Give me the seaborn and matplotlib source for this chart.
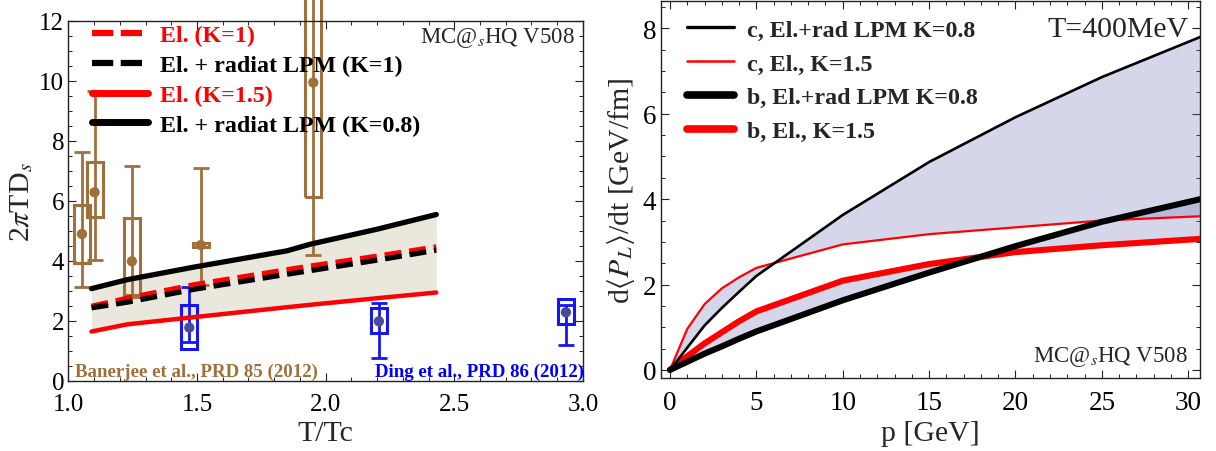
import numpy as np
import pandas as pd
import matplotlib
matplotlib.use("Agg")
import matplotlib.pyplot as plt
import seaborn as sns
from matplotlib.lines import Line2D
from matplotlib.ticker import MultipleLocator, FormatStrFormatter

# ---------------- Left panel data ----------------
T_model = [1.09, 1.23, 1.49, 1.85, 1.94, 2.20, 2.43]
el_K1 = [2.48, 2.75, 3.20, 3.70, 3.82, 4.15, 4.46]
rad_K1 = [2.43, 2.62, 3.05, 3.55, 3.67, 4.02, 4.35]
el_K15 = [1.64, 1.88, 2.12, 2.45, 2.53, 2.75, 2.94]
rad_K08 = [3.07, 3.37, 3.79, 4.33, 4.55, 5.05, 5.54]

ban_T = [1.053, 1.102, 1.247, 1.515, 1.952]
ban_y = [4.89, 6.28, 3.98, 4.52, 9.94]
ban_box_lo = [3.92, 5.46, 2.85, 4.45, 6.14]
ban_box_hi = [5.85, 7.28, 5.42, 4.60, 15.0]
ban_err_lo = [3.13, 4.01, 2.80, 3.20, 4.18]
ban_err_hi = [7.64, 9.67, 7.16, 7.08, 15.0]

ding_T = [1.47, 2.207, 2.934]
ding_y = [1.77, 1.98, 2.28]
ding_box_lo = [1.05, 1.58, 1.89]
ding_box_hi = [2.52, 2.41, 2.71]
ding_err_lo = [1.28, 0.77, 1.19]
ding_err_hi = [3.13, 2.60, 2.51]

left_labels = ["El. (K=1)", "El. + radiat LPM (K=1)", "El. (K=1.5)", "El. + radiat LPM (K=0.8)"]

# ---------------- Right panel data ----------------
p_vals = [0, 1, 2, 3, 4, 5, 10, 15, 20, 25, 30.7]
c_rad = [0, 0.52, 1.04, 1.45, 1.83, 2.20, 3.63, 4.87, 5.92, 6.86, 7.80]
c_el = [0, 0.96, 1.54, 1.91, 2.17, 2.39, 2.94, 3.18, 3.34, 3.50, 3.60]
b_rad = [0, 0.19, 0.38, 0.55, 0.73, 0.90, 1.63, 2.28, 2.90, 3.47, 4.00]
b_el = [0, 0.32, 0.62, 0.88, 1.14, 1.37, 2.09, 2.48, 2.76, 2.92, 3.07]

right_labels = ["c, El.+rad LPM K=0.8", "c, El., K=1.5", "b, El.+rad LPM K=0.8", "b, El., K=1.5"]

# ---------------- Style ----------------
sns.set_style("ticks")
plt.rcParams['font.family'] = ['Liberation Serif', 'DejaVu Serif']
plt.rcParams['mathtext.fontset'] = 'stix'

BROWN = "#a0703c"
BLUE = "#1515f5"
BLUEPT = "#4a4a9c"
RED = "#ff0000"
BEIGE = "#eae7dc"
LAV = (0.47, 0.47, 0.74)

fig = plt.figure(figsize=(12.16, 4.52), dpi=100)
axL = fig.add_axes([0.0562, 0.1555, 0.4232, 0.7965])
axR = fig.add_axes([0.5433, 0.1615, 0.4435, 0.8347])

LAB_FS = 21.5
LEG_FS = 17.3


def style_axes(ax, tick_fs):
    for s in ax.spines.values():
        s.set_linewidth(1.0)
        s.set_color("#222222")
        s.set_visible(True)
    ax.tick_params(which="both", direction="in", top=True, right=True,
                   labelsize=tick_fs, colors="#222222", labelcolor="black")
    ax.tick_params(which="major", length=6, width=0.8)
    ax.tick_params(which="minor", length=3.2, width=0.7)
    ax.tick_params(axis="x", which="major", pad=8.5)
    ax.tick_params(axis="y", which="major", pad=3)


# ---------------- Left panel ----------------
ax = axL
ax.fill_between(T_model, el_K15, rad_K08, color=BEIGE, lw=0, zorder=1)

ban = pd.DataFrame({"T": ban_T, "y": ban_y, "blo": ban_box_lo, "bhi": ban_box_hi,
                    "elo": ban_err_lo, "ehi": ban_err_hi})
ding = pd.DataFrame({"T": ding_T, "y": ding_y, "blo": ding_box_lo, "bhi": ding_box_hi,
                     "elo": ding_err_lo, "ehi": ding_err_hi})

for df, col, ptcol in [(ban, BROWN, BROWN), (ding, BLUE, BLUEPT)]:
    eb = ax.errorbar(df["T"], df["y"], yerr=[df["y"] - df["elo"], df["ehi"] - df["y"]],
                     fmt="none", ecolor=col, elinewidth=2.0, capsize=6, capthick=2.0, zorder=2)
    for art in list(eb.lines[1]) + list(eb.lines[2]):
        art.set_clip_on(False)
    bars = ax.bar(df["T"], df["bhi"] - df["blo"], bottom=df["blo"], width=0.062,
                  fill=False, edgecolor=col, linewidth=2.2, zorder=2)
    for b in bars:
        b.set_clip_on(False)
    sns.scatterplot(x=df["T"], y=df["y"], ax=ax, color=ptcol, s=55, edgecolor="none", zorder=3)

dash = (0, (3.2, 1.5))
sns.lineplot(x=T_model, y=el_K1, ax=ax, color=RED, lw=3.8, linestyle=dash, zorder=4)
sns.lineplot(x=T_model, y=rad_K1, ax=ax, color="black", lw=3.8, linestyle=dash, zorder=4)
sns.lineplot(x=T_model, y=el_K15, ax=ax, color=RED, lw=3.2, zorder=4)
sns.lineplot(x=T_model, y=rad_K08, ax=ax, color="black", lw=3.8, zorder=4)

ax.set_xlim(1.0, 3.0)
ax.set_ylim(0, 12)
ax.xaxis.set_major_locator(MultipleLocator(0.5))
ax.xaxis.set_minor_locator(MultipleLocator(0.1))
ax.yaxis.set_major_locator(MultipleLocator(2))
ax.yaxis.set_minor_locator(MultipleLocator(0.5))
ax.xaxis.set_major_formatter(FormatStrFormatter("%.1f"))
style_axes(ax, 18)
ax.set_xlabel("T/Tc", fontsize=LAB_FS, labelpad=4)
ax.set_ylabel(r"2$\pi$TD$_s$", fontsize=LAB_FS, labelpad=3)

hL = [Line2D([], [], color=RED, lw=4.5, linestyle=(0, (3.4, 1.2))),
      Line2D([], [], color="black", lw=4.5, linestyle=(0, (3.4, 1.2))),
      Line2D([], [], color=RED, lw=5),
      Line2D([], [], color="black", lw=5)]
legL = ax.legend(hL, left_labels, loc="upper left", bbox_to_anchor=(0.0455, 0.989),
                 frameon=False, borderaxespad=0, borderpad=0, handlelength=2.35,
                 handletextpad=0.48, labelspacing=0.33,
                 prop={"family": "Liberation Serif", "weight": "bold", "size": LEG_FS})
for t, c in zip(legL.get_texts(), [RED, "black", RED, "black"]):
    t.set_color(c)

ax.text(0.985, 0.955, r"MC@$_s$HQ V508", transform=ax.transAxes, ha="right", va="center",
        fontsize=16.5)
ax.text(0.013, 0.027, "Banerjee et al., PRD 85 (2012)", transform=ax.transAxes, ha="left",
        va="center", fontsize=13.6, weight="bold", color=BROWN)
ax.text(1.002, 0.027, "Ding et al., PRD 86 (2012)", transform=ax.transAxes, ha="right",
        va="center", fontsize=13.6, weight="bold", color="#0000ff")

# ---------------- Right panel ----------------
ax = axR
ax.fill_between(p_vals, c_el, c_rad, color=LAV, alpha=0.3, lw=0, zorder=1)
ax.fill_between(p_vals, b_el, b_rad, color=LAV, alpha=0.3, lw=0, zorder=1)

sns.lineplot(x=p_vals, y=c_el, ax=ax, color=RED, lw=1.6, zorder=3)
sns.lineplot(x=p_vals, y=b_el, ax=ax, color=RED, lw=4.4, zorder=3)
sns.lineplot(x=p_vals, y=c_rad, ax=ax, color="black", lw=1.9, zorder=4)
sns.lineplot(x=p_vals, y=b_rad, ax=ax, color="black", lw=4.4, zorder=4)

ax.set_xlim(-0.54, 30.68)
ax.set_ylim(-0.19, 8.65)
ax.xaxis.set_major_locator(MultipleLocator(5))
ax.xaxis.set_minor_locator(MultipleLocator(1))
ax.yaxis.set_major_locator(MultipleLocator(2))
ax.yaxis.set_minor_locator(MultipleLocator(0.5))
style_axes(ax, 19.5)
ax.set_xlabel("p [GeV]", fontsize=LAB_FS, labelpad=4)
ax.set_ylabel(r"d$\langle P_L\rangle$/dt [GeV/fm]", fontsize=LAB_FS, labelpad=4)

hR = [Line2D([], [], color="black", lw=2.4),
      Line2D([], [], color=RED, lw=1.8),
      Line2D([], [], color="black", lw=5.5),
      Line2D([], [], color=RED, lw=5.5)]
legR = ax.legend(hR, right_labels, loc="upper left", bbox_to_anchor=(0.0488, 0.952),
                 frameon=False, borderaxespad=0, borderpad=0, handlelength=1.95,
                 handletextpad=0.54, labelspacing=0.5,
                 prop={"family": "Liberation Serif", "weight": "bold", "size": LEG_FS})

ax.text(0.978, 0.925, "T=400MeV", transform=ax.transAxes, ha="right", va="center",
        fontsize=21.5)
ax.text(0.978, 0.057, r"MC@$_s$HQ V508", transform=ax.transAxes, ha="right", va="center",
        fontsize=16.5)

fig.savefig("out.png", dpi=100)
